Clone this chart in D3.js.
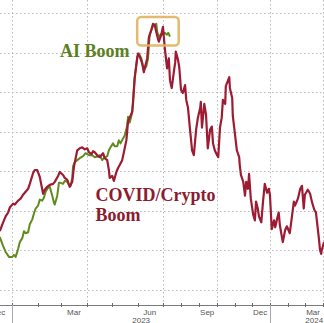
<!DOCTYPE html>
<html>
<head>
<meta charset="utf-8">
<title>AI Boom vs COVID/Crypto Boom</title>
<script src="https://d3js.org/d3.v7.min.js"></script>
<style>
  body { margin: 0; background: #fff; }
  svg { display: block; }
</style>
</head>
<body>
<svg width="324" height="323"></svg>
<script>
const parse = d3.timeParse("%Y-%m-%d");

// COVID/Crypto boom (red)
const covidDates = [
  "2022-12-17","2022-12-21","2022-12-24","2022-12-27","2022-12-29","2023-01-02","2023-01-04","2023-01-08",
  "2023-01-11","2023-01-14","2023-01-17","2023-01-20","2023-01-22","2023-01-26","2023-01-28","2023-01-31",
  "2023-02-03","2023-02-07","2023-02-09","2023-02-12","2023-02-15","2023-02-19","2023-02-21","2023-02-25",
  "2023-02-27","2023-03-03","2023-03-05","2023-03-08","2023-03-11","2023-03-14","2023-03-16","2023-03-20",
  "2023-03-23","2023-03-26","2023-03-29","2023-04-01","2023-04-03","2023-04-06","2023-04-08","2023-04-10",
  "2023-04-14","2023-04-16","2023-04-20","2023-04-22","2023-04-25","2023-04-27","2023-04-28","2023-05-01",
  "2023-05-03","2023-05-06","2023-05-08","2023-05-10","2023-05-13","2023-05-15","2023-05-18","2023-05-20",
  "2023-05-22","2023-05-25","2023-05-26","2023-05-28","2023-05-31","2023-06-01","2023-06-03","2023-06-06",
  "2023-06-08","2023-06-09","2023-06-12","2023-06-14","2023-06-17","2023-06-19","2023-06-21","2023-06-24",
  "2023-06-26","2023-06-29","2023-07-01","2023-07-04","2023-07-08","2023-07-11","2023-07-13","2023-07-16",
  "2023-07-20","2023-07-22","2023-07-23","2023-07-27","2023-07-29","2023-08-01","2023-08-04","2023-08-08",
  "2023-08-10","2023-08-13","2023-08-16","2023-08-20","2023-08-23","2023-08-27","2023-08-30","2023-09-03",
  "2023-09-04","2023-09-06","2023-09-10","2023-09-13","2023-09-16","2023-09-20","2023-09-23","2023-09-25",
  "2023-09-28","2023-10-02","2023-10-04","2023-10-07","2023-10-10","2023-10-12","2023-10-16","2023-10-17",
  "2023-10-21","2023-10-23","2023-10-24","2023-10-28","2023-10-29","2023-11-02","2023-11-05","2023-11-09",
  "2023-11-10","2023-11-12","2023-11-16","2023-11-19","2023-11-21","2023-11-24","2023-11-26","2023-11-29",
  "2023-12-03","2023-12-06","2023-12-08","2023-12-11","2023-12-13","2023-12-17","2023-12-20","2023-12-23",
  "2023-12-27","2023-12-30","2024-01-01","2024-01-04","2024-01-08","2024-01-10","2024-01-13","2024-01-16",
  "2024-01-18","2024-01-23","2024-01-27","2024-01-30","2024-02-04","2024-02-08","2024-02-11","2024-02-13",
  "2024-02-18","2024-02-22","2024-02-25","2024-02-28","2024-03-01","2024-03-06","2024-03-10","2024-03-13",
  "2024-03-17","2024-03-20","2024-03-25","2024-03-27","2024-03-29","2024-03-30","2024-04-03"
];
const covidValues = [
  59, 68, 74, 78, 83, 87, 86, 90,
  92, 96, 99, 102, 107, 118, 121, 121,
  114, 97, 101, 104, 106, 107, 109, 115,
  119, 116, 113, 111, 104, 109, 124, 141,
  143, 144, 142, 143, 139, 137, 140, 139,
  135, 134, 138, 133, 131, 121, 113, 115,
  110, 119, 123, 126, 131, 139, 151, 170,
  174, 180, 189, 214, 234, 239, 236, 229,
  220, 224, 234, 255, 263, 269, 268, 257,
  251, 258, 266, 245, 224, 234, 212, 204,
  222, 230, 241, 232, 225, 202, 199, 207,
  192, 184, 165, 141, 136, 162, 174, 184,
  190, 164, 188, 177, 143, 162, 165, 148,
  141, 136, 134, 164, 174, 192, 188, 206,
  212, 215, 204, 194, 176, 156, 141, 134,
  126, 116, 109, 95, 109, 102, 117, 92,
  76, 70, 89, 82, 74, 68, 89, 107,
  98, 102, 95, 61, 70, 63, 71, 78,
  65, 48, 60, 64, 57, 75, 89, 85,
  92, 102, 105, 82, 96, 101, 97, 89,
  81, 78, 52, 40, 36, 40, 48
];

// AI boom (green)
const aiDates = [
  "2022-12-17","2022-12-21","2022-12-24","2022-12-28","2023-01-01","2023-01-03","2023-01-05","2023-01-08",
  "2023-01-10","2023-01-13","2023-01-15","2023-01-17","2023-01-20","2023-01-22","2023-01-25","2023-01-27",
  "2023-01-29","2023-02-01","2023-02-03","2023-02-06","2023-02-08","2023-02-10","2023-02-13","2023-02-15",
  "2023-02-18","2023-02-20","2023-02-21","2023-02-24","2023-02-26","2023-02-28","2023-03-03","2023-03-05",
  "2023-03-08","2023-03-10","2023-03-12","2023-03-14","2023-03-15","2023-03-17","2023-03-20","2023-03-23",
  "2023-03-27","2023-03-30","2023-04-03","2023-04-07","2023-04-10","2023-04-14","2023-04-16","2023-04-19",
  "2023-04-21","2023-04-25","2023-04-27","2023-04-29","2023-05-02","2023-05-04","2023-05-07","2023-05-09",
  "2023-05-11","2023-05-14","2023-05-16","2023-05-19","2023-05-20","2023-05-22","2023-05-25","2023-05-26",
  "2023-05-28","2023-05-31","2023-06-02","2023-06-05","2023-06-07","2023-06-08","2023-06-11","2023-06-13",
  "2023-06-15","2023-06-18","2023-06-20","2023-06-23","2023-06-24","2023-06-26","2023-06-29","2023-07-01",
  "2023-07-04","2023-07-08","2023-07-10","2023-07-13"
];
const aiValues = [
  53, 44, 38, 33, 33, 35, 33, 41,
  48, 52, 59, 57, 58, 66, 71, 77,
  82, 85, 91, 90, 93, 99, 103, 104,
  95, 88, 86, 95, 108, 108, 107, 110,
  109, 106, 105, 113, 125, 129, 131, 133,
  135, 138, 136, 136, 134, 135, 136, 131,
  133, 135, 141, 144, 148, 145, 145, 151,
  148, 153, 156, 166, 175, 169, 179, 191,
  215, 235, 239, 234, 226, 222, 226, 234,
  258, 265, 268, 269, 261, 256, 259, 258,
  260, 258, 260, 256
];

const yTicks = [0, 40, 80, 120, 160, 200, 240, 280];
const gridDates = ["2023-01-01", "2023-04-01", "2023-07-01", "2023-10-01", "2024-01-01", "2024-04-01"];
const yearStarts = ["2023-01-01", "2024-01-01"];
const monthLabelDates = ["2022-12-15", "2023-03-16", "2023-06-15", "2023-09-15", "2023-12-15", "2024-03-15"];
const monthLabelText = ["Dec", "Mar", "Jun", "Sep", "Dec", "Mar"];
const yearLabelText = ["2023", "2024"];
const yearSpans = [["2023-01-01", "2024-01-01"], ["2024-01-01", "2024-06-01"]];

// highlight box round the peak
const boxDates = ["2023-05-31", "2023-07-28"];
const boxValues = [247, 276];

const W = 324, H = 323, axisY = 305;
const svg = d3.select("svg");

// the date axis is stretched unevenly in the original, so the scale is piecewise
const x = d3.scaleTime()
  .domain([parse("2023-01-01"), parse("2023-07-01"), parse("2024-01-01")])
  .range([12.3, 163, 270]);
const y = d3.scaleLinear().domain([0, 280]).range([289.5, 13]);

const grid = svg.append("g")
  .attr("stroke", "#b9b9b9")
  .attr("stroke-dasharray", "1.5,2.5")
  .attr("stroke-width", 1);

grid.selectAll("line.h").data(yTicks).join("line")
  .attr("class", "h")
  .attr("x1", 0).attr("x2", W)
  .attr("y1", d => Math.round(y(d)) + 0.5).attr("y2", d => Math.round(y(d)) + 0.5);

grid.selectAll("line.v").data(gridDates).join("line")
  .attr("class", "v")
  .attr("x1", d => Math.round(x(parse(d))) + 0.5).attr("x2", d => Math.round(x(parse(d))) + 0.5)
  .attr("y1", 0).attr("y2", axisY);

// axis
svg.append("line")
  .attr("x1", 0).attr("x2", W)
  .attr("y1", axisY + 0.5).attr("y2", axisY + 0.5)
  .attr("stroke", "#7a7a7a");

const months = d3.timeMonth.range(parse("2022-12-01"), parse("2024-05-01"));
svg.append("g").selectAll("line").data(months).join("line")
  .attr("x1", d => Math.round(x(d)) + 0.5).attr("x2", d => Math.round(x(d)) + 0.5)
  .attr("y1", axisY - 2).attr("y2", axisY + 2)
  .attr("stroke", "#6a6a6a");

svg.append("g").selectAll("line").data(yearStarts).join("line")
  .attr("x1", d => Math.round(x(parse(d))) + 0.5).attr("x2", d => Math.round(x(parse(d))) + 0.5)
  .attr("y1", axisY).attr("y2", H)
  .attr("stroke", "#a8a8a8");

svg.append("g")
  .attr("font-family", "Liberation Sans, Arial, sans-serif")
  .attr("font-size", 8)
  .attr("fill", "#555")
  .attr("text-anchor", "middle")
  .selectAll("text").data(monthLabelDates).join("text")
  .attr("x", d => x(parse(d)))
  .attr("y", 314.5)
  .text((d, i) => monthLabelText[i]);

svg.append("g")
  .attr("font-family", "Liberation Sans, Arial, sans-serif")
  .attr("font-size", 8)
  .attr("fill", "#555")
  .attr("text-anchor", "middle")
  .selectAll("text").data(yearSpans).join("text")
  .attr("x", d => (x(parse(d[0])) + x(parse(d[1]))) / 2)
  .attr("y", 322.5)
  .text((d, i) => yearLabelText[i]);

// lines
const line = d3.line()
  .x(d => x(d[0]))
  .y(d => y(d[1]));

const aiData = aiDates.map((d, i) => [parse(d), aiValues[i]]);
const covidData = covidDates.map((d, i) => [parse(d), covidValues[i]]);

svg.append("path")
  .datum(aiData)
  .attr("d", line)
  .attr("fill", "none")
  .attr("stroke", "#5f8b1f")
  .attr("stroke-width", 2)
  .attr("stroke-linejoin", "round");

svg.append("path")
  .datum(covidData)
  .attr("d", line)
  .attr("fill", "none")
  .attr("stroke", "#9d1c33")
  .attr("stroke-width", 2.2)
  .attr("stroke-linejoin", "round");

// highlight box
const bx0 = x(parse(boxDates[0])), bx1 = x(parse(boxDates[1]));
svg.append("rect")
  .attr("x", bx0).attr("y", y(boxValues[1]))
  .attr("width", bx1 - bx0).attr("height", y(boxValues[0]) - y(boxValues[1]))
  .attr("rx", 4)
  .attr("fill", "none")
  .attr("stroke", "#e0b35e")
  .attr("stroke-width", 2.5)
  .attr("opacity", 0.9);

// labels
const serif = "Liberation Serif, Times New Roman, serif";
svg.append("text")
  .attr("x", 60).attr("y", 57)
  .attr("font-family", serif).attr("font-weight", "bold").attr("font-size", 18)
  .attr("fill", "#5b801f")
  .text("AI Boom");

const covidLabel = svg.append("text")
  .attr("font-family", serif).attr("font-weight", "bold").attr("font-size", 18)
  .attr("fill", "#8c1c30");
covidLabel.append("tspan").attr("x", 95.5).attr("y", 201).text("COVID/Crypto");
covidLabel.append("tspan").attr("x", 95.5).attr("y", 221).text("Boom");
</script>
</body>
</html>
